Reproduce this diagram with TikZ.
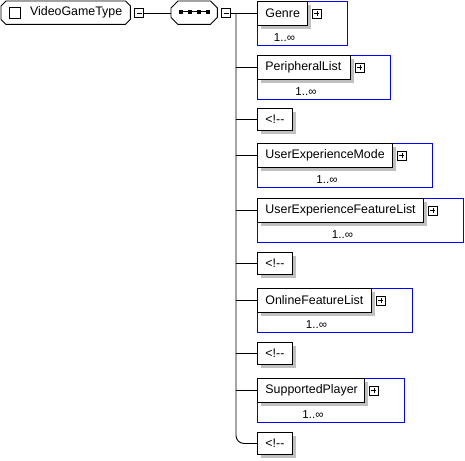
\documentclass[tikz,border=0pt]{standalone}
\usepackage{fontspec}
\setmainfont{Liberation Sans}
\usetikzlibrary{shadows,calc,backgrounds}
\definecolor{shadowgray}{RGB}{192,192,192}
\definecolor{xsdblue}{RGB}{0,0,255}
\newcommand\octpath[2]{($(#1.north west)+(#2,0)$) -- ($(#1.north east)+(-#2,0)$) -- ($(#1.north east)+(0,#2)$) -- ($(#1.south east)+(0,-#2)$) -- ($(#1.south east)+(-#2,0)$) -- ($(#1.south west)+(#2,0)$) -- ($(#1.south west)+(0,-#2)$) -- ($(#1.north west)+(0,#2)$) -- cycle}
\tikzset{
  ln/.style={line width=0.9pt},
  shd/.style={drop shadow={shadow xshift=4pt,shadow yshift=-4pt,fill=shadowgray,opacity=1}},
  txt/.style={font=\fontsize{12.4}{14}\selectfont},
  elem/.style={draw, fill=white, ln, shd, anchor=north west, minimum height=24pt,
    inner xsep=8pt, inner ysep=0pt, text width=#1, align=left, txt},
  cmt/.style={draw, fill=white, ln, shd, anchor=north west, minimum height=22pt,
    minimum width=33pt, inner xsep=8pt, inner ysep=0pt, txt},
  bluebox/.style={draw=xsdblue, ln, anchor=north west, minimum height=44pt, inner sep=0pt},
  lbl/.style={inner sep=0pt, font=\fontsize{11.5}{13}\selectfont},
  plusbox/.style={draw, fill=white, line width=0.8pt, minimum size=9pt, inner sep=0pt,
    path picture={
      \draw[line width=0.8pt] ([xshift=2pt]path picture bounding box.west) -- ([xshift=-2pt]path picture bounding box.east);
      \draw[line width=0.8pt] ([yshift=-2pt]path picture bounding box.north) -- ([yshift=2pt]path picture bounding box.south);}},
  minusbox/.style={draw, fill=white, line width=0.8pt, minimum size=9pt, inner sep=0pt,
    path picture={
      \draw[line width=0.8pt] ([xshift=2pt]path picture bounding box.west) -- ([xshift=-2pt]path picture bounding box.east);}},
  octnode/.style={anchor=north west, inner sep=0pt, minimum height=23pt},
}
\begin{document}
\begin{tikzpicture}[x=1pt,y=-1pt]
\useasboundingbox (0,0) rectangle (465,460);

% root element
\node[octnode, minimum width=129pt, text width=113pt, align=right, inner xsep=8pt, txt] (root) at (1,1) {VideoGameType};
% sequence compositor
\node[octnode, minimum width=46pt] (seq) at (171,1) {};
\begin{pgfonlayer}{background}
  \fill[shadowgray, shift={(3,3)}] \octpath{root}{5};
  \filldraw[fill=white, ln] \octpath{root}{5};
  \fill[shadowgray, shift={(3,3)}] \octpath{seq}{7};
  \filldraw[fill=white, ln] \octpath{seq}{7};
\end{pgfonlayer}
\node[draw, line width=0.8pt, minimum size=11pt, inner sep=0pt] (chk) at (15,12.5) {};
\node[minusbox] (rminus) at (139,13) {};

\draw[line width=1pt] (181,12) -- (208,12);
\foreach \dx [count=\i] in {181,190,199,208}
  \node[fill=black, minimum size=3.5pt, inner sep=0pt] (dot\i) at (\dx,12) {};
\node[minusbox] (sminus) at (226,13) {};

\draw[ln] (rminus.east) -- (rminus.east -| seq.west);
\coordinate (trunk) at (236,13);
\draw[ln] (sminus.east) -- (trunk);

% Genre
\node[bluebox, minimum width=90pt] (gb) at (257,1) {};
\node[elem=34pt] (g) at (257,1) {\mbox{Genre}};
\node[plusbox] (gp) at ($(g.east)+(9,0)$) {};
\node[lbl] (gl) at ($(g.south)+(2,12)$) {1..∞};

% PeripheralList
\node[bluebox, minimum width=133pt] (pb) at (257,55) {};
\node[elem=77pt] (p) at (257,55) {\mbox{PeripheralList}};
\node[plusbox] (pp) at ($(p.east)+(9,0)$) {};
\node[lbl] (pl) at ($(p.south)+(2,12)$) {1..∞};

% comment 1
\node[cmt] (c1) at (257,108) {<!-{}-};

% UserExperienceMode
\node[bluebox, minimum width=175pt] (ub) at (257,143) {};
\node[elem=119pt] (u) at (257,143) {\mbox{UserExperienceMode}};
\node[plusbox] (up) at ($(u.east)+(9,0)$) {};
\node[lbl] (ul) at ($(u.south)+(2,12)$) {1..∞};

% UserExperienceFeatureList
\node[bluebox, minimum width=206pt] (fb) at (257,198) {};
\node[elem=150pt] (f) at (257,198) {\mbox{UserExperienceFeatureList}};
\node[plusbox] (fp) at ($(f.east)+(9,0)$) {};
\node[lbl] (fl) at ($(f.south)+(2,12)$) {1..∞};

% comment 2
\node[cmt] (c2) at (257,252) {<!-{}-};

% OnlineFeatureList
\node[bluebox, minimum width=155pt] (ob) at (257,288) {};
\node[elem=98pt] (o) at (257,288) {\mbox{OnlineFeatureList}};
\node[plusbox] (op) at ($(o.east)+(9,0)$) {};
\node[lbl] (ol) at ($(o.south)+(2,12)$) {1..∞};

% comment 3
\node[cmt] (c3) at (257,342) {<!-{}-};

% SupportedPlayer
\node[bluebox, minimum width=147pt] (sb) at (257,378) {};
\node[elem=91pt] (s) at (257,378) {\mbox{SupportedPlayer}};
\node[plusbox] (sp) at ($(s.east)+(9,0)$) {};
\node[lbl] (sl) at ($(s.south)+(2,12)$) {1..∞};

% comment 4
\node[cmt] (c4) at (257,432) {<!-{}-};

% trunk and branches
\draw[ln, rounded corners=8pt] (trunk) |- (c4.west);
\foreach \n in {g,p,c1,u,f,c2,o,c3,s}
  \draw[ln] (trunk |- \n.west) -- (\n.west);
\end{tikzpicture}
\end{document}
